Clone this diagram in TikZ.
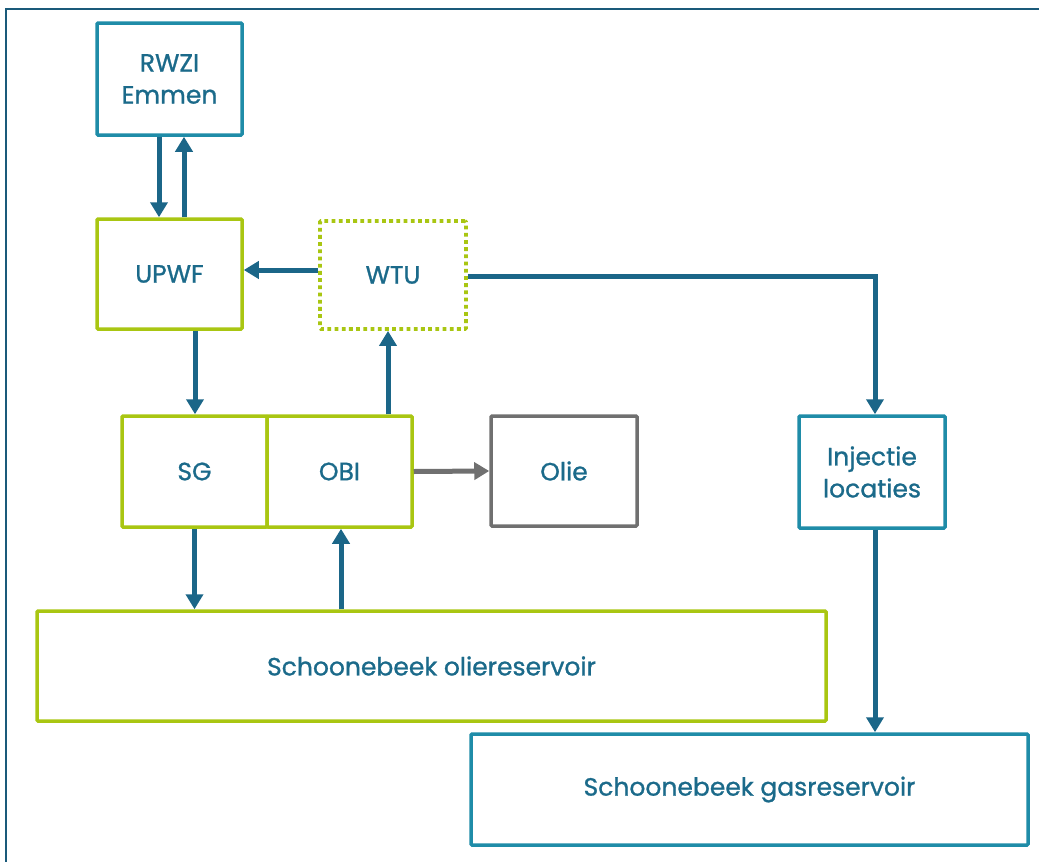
\documentclass[tikz,border=0pt]{standalone}
\usepackage{fontspec}
\setmainfont{Poppins}[FakeBold=1]
\usetikzlibrary{arrows.meta}
\definecolor{txt}{HTML}{1B6A8A}
\definecolor{arr}{HTML}{1B6688}
\definecolor{teal}{HTML}{1F8CA8}
\definecolor{lime}{HTML}{A9C612}
\definecolor{grayb}{HTML}{707070}
\definecolor{frame}{HTML}{1A5A7A}
\tikzset{
  box/.style={draw, line width=3.5pt, rounded corners=1pt, inner sep=0pt, align=center,
    text=txt, font=\fontsize{25}{32}\selectfont},
  tealbox/.style={box, draw=teal},
  limebox/.style={box, draw=lime},
  dotbox/.style={box, draw=lime, line width=3.8pt, dash pattern=on 3.8pt off 3.4pt},
  graybox/.style={box, draw=grayb},
  flow/.style={draw=arr, line width=5pt, -{Triangle[width=17pt,length=15pt]}},
  grayflow/.style={draw=grayb, line width=5pt, -{Triangle[width=17pt,length=15pt]}},
}
\begin{document}
\begin{tikzpicture}[x=1pt,y=-1pt]
\useasboundingbox (0,0) rectangle (1039,862);
% frame (only top and left visible)
\coordinate (ftr) at (1039,9);
\coordinate (ftl) at (6,9);
\coordinate (fbl) at (6,862);
\draw[frame, line width=2.5pt] (ftr) -- (ftl) -- (fbl);

\node[tealbox, minimum width=145pt, minimum height=112pt] (rwzi) at (169.5,79) {RWZI\\Emmen};
\node[limebox, minimum width=145pt, minimum height=110pt] (upwf) at (169.5,274) {UPWF};
\node[dotbox, minimum width=146pt, minimum height=108pt] (wtu) at (393,275) {WTU};
\node[limebox, minimum width=145pt, minimum height=111pt] (sg) at (194.5,471.5) {SG};
\node[limebox, minimum width=145pt, minimum height=111pt] (obi) at (339.5,471.5) {OBI};
\node[graybox, minimum width=146pt, minimum height=110pt] (olie) at (564,471) {Olie};
\node[tealbox, minimum width=146pt, minimum height=112pt] (inj) at (872,472) {Injectie\\locaties};
\node[limebox, minimum width=789pt, minimum height=110pt] (ores) at (431.5,666) {Schoonebeek oliereservoir};
\node[tealbox, minimum width=557pt, minimum height=111pt] (gres) at (749.5,789.5) {Schoonebeek gasreservoir};

% connectors
\draw[flow] ([xshift=-10.5pt]rwzi.south) -- ([xshift=-10.5pt]rwzi.south |- upwf.north);
\draw[flow] ([xshift=14.5pt]rwzi.south |- upwf.north) -- ([xshift=14.5pt]rwzi.south);
\draw[flow] ([yshift=5pt]wtu.west) -- ([yshift=5pt]wtu.west -| upwf.east);
\draw[flow] ([xshift=25.5pt]upwf.south) -- ([xshift=25.5pt]upwf.south |- sg.north);
\draw[flow] ([xshift=48.5pt]obi.north) -- ([xshift=48.5pt]obi.north |- wtu.south);
\draw[flow] ([yshift=-1pt]wtu.east) -| ([xshift=3pt]inj.north);
\draw[grayflow] (obi.east) -- (olie.west);
\draw[flow] (sg.south) -- (sg.south |- ores.north);
\draw[flow] ([xshift=1.5pt]obi.south |- ores.north) -- ([xshift=1.5pt]obi.south);
\draw[flow] ([xshift=3pt]inj.south) -- ([xshift=3pt]inj.south |- gres.north);
\end{tikzpicture}
\end{document}
